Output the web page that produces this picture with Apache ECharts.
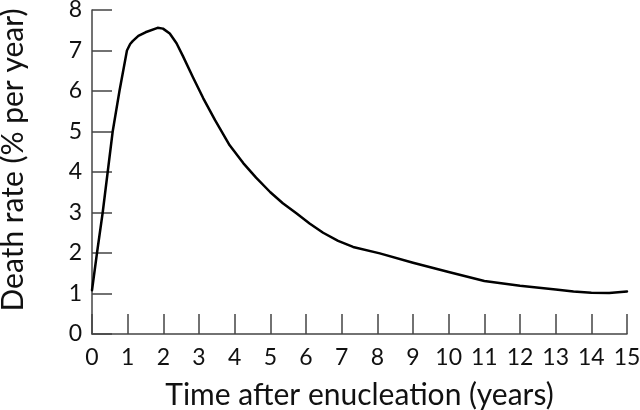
<!DOCTYPE html>
<html>
<head>
<meta charset="utf-8">
<script src="https://cdn.jsdelivr.net/npm/echarts@6/dist/echarts.min.js"></script>
<style>html,body{margin:0;padding:0;background:#fff;}#c{width:640px;height:410px;}</style>
</head>
<body>
<div id="c"></div>
<script>
const years = [0, 0.14, 0.30, 0.44, 0.58, 0.77, 0.98, 1.07, 1.14, 1.3, 1.5, 1.84, 1.99, 2.18, 2.37, 2.55, 2.83, 3.12, 3.45, 3.86, 4.24, 4.6, 5.0, 5.35, 5.73, 6.1, 6.48, 6.9, 7.32, 8.07, 9, 10, 10.5, 11, 12, 13, 13.5, 14, 14.5, 15];
const deathRate = [1.08, 2.0, 3.0, 4.0, 5.0, 6.0, 7.0, 7.16, 7.23, 7.36, 7.45, 7.56, 7.54, 7.42, 7.18, 6.86, 6.34, 5.82, 5.28, 4.66, 4.22, 3.86, 3.5, 3.23, 2.98, 2.73, 2.5, 2.3, 2.15, 1.99, 1.76, 1.53, 1.42, 1.31, 1.19, 1.1, 1.05, 1.02, 1.01, 1.05];
const xTicks = [0,1,2,3,4,5,6,7,8,9,10,11,12,13,14,15];
const yTicks = [0,1,2,3,4,5,6,7,8];
const xTitle = 'Time after enucleation (years)';
const yTitle = 'Death rate (% per year)';

const chart = echarts.init(document.getElementById('c'));
const font = 'Lato';
chart.setOption({
  animation: false,
  backgroundColor: '#fff',
  grid: {left: 92, right: 13, top: 10, bottom: 76, containLabel: false, outerBoundsMode: 'none'},
  xAxis: {
    type: 'value', min: xTicks[0], max: xTicks[xTicks.length-1], interval: 1,
    name: xTitle, nameLocation: 'middle', nameGap: 46,
    nameTextStyle: {fontFamily: font, fontSize: 30, color: '#111'},
    axisLine: {lineStyle: {color: '#444', width: 1.5}},
    axisTick: {inside: true, length: 20, lineStyle: {color: '#444', width: 1.5}},
    axisLabel: {fontFamily: font, fontSize: 23, color: '#111', margin: 12},
    splitLine: {show: false}
  },
  yAxis: {
    type: 'value', min: yTicks[0], max: yTicks[yTicks.length-1], interval: 1,
    name: yTitle, nameLocation: 'middle', nameGap: 64, nameRotate: 90,
    nameTextStyle: {fontFamily: font, fontSize: 30, color: '#111', padding: [0, 0, 0, 24]},
    axisLine: {show: true, lineStyle: {color: '#444', width: 1.5}},
    axisTick: {show: true, inside: true, length: 20, lineStyle: {color: '#444', width: 1.5}},
    axisLabel: {fontFamily: font, fontSize: 23, color: '#111', margin: 10},
    splitLine: {show: false}
  },
  series: [{
    type: 'line',
    data: years.map((x, i) => [x, deathRate[i]]),
    showSymbol: false,
    smooth: false,
    lineStyle: {color: '#000', width: 2.5, join: 'round', cap: 'round'}
  }]
});
</script>
</body>
</html>
